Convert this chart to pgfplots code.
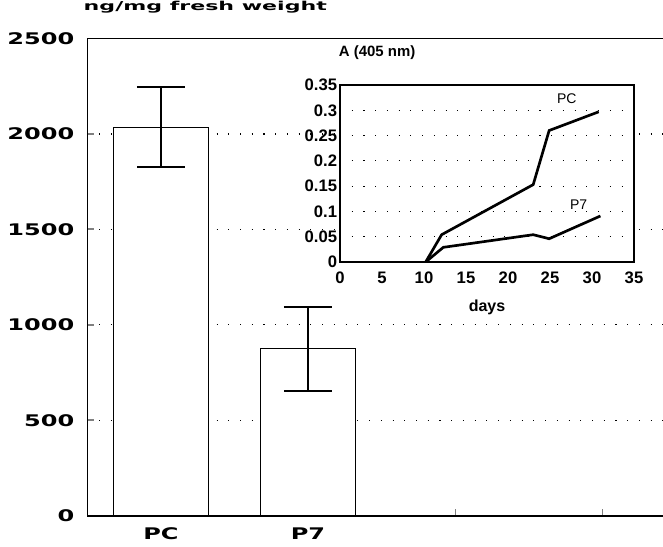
\documentclass[border=0pt]{standalone}
\usepackage{fontspec}
\usepackage{pgfplots}
\pgfplotsset{compat=1.18}
\setmainfont{Liberation Sans}
\newfontfamily\widefont[FakeStretch=1.5]{DejaVu Sans Bold}
\newfontfamily\titlefont[FakeStretch=1.8]{DejaVu Sans Bold}
\begin{document}
\begin{tikzpicture}
\path[use as bounding box] (0,0) rectangle (497.25pt,409.5pt);
\begin{axis}[
  at={(65.6pt,22.7pt)}, anchor=south west,
  scale only axis, width=431.6pt, height=357.9pt,
  xmin=-0.5, xmax=3.415, ymin=0, ymax=2500,
  axis x line=box, axis y line=left,
  axis line style={-, line width=1.4pt},
  xtick={0,1,2,3}, xticklabels={PC,P7,,},
  ytick={0,500,1000,1500,2000,2500},
  yticklabels={0,500,1000,1500,2000,2500},
  xtick pos=left, ytick pos=left,
  tick align=inside, major tick length=5pt,
  xtick style={line width=0.5pt},
  ytick style={line width=1.4pt},
  ymajorgrids,
  grid style={line width=0.8pt, dash pattern=on 0.8pt off 8pt, black},
  /pgf/number format/assume math mode=true,
  ticklabel style={font=\widefont\fontsize{12}{12}\selectfont},
  yticklabel style={anchor=east, inner sep=0pt, xshift=-9.75pt},
  xticklabel style={anchor=north, inner sep=0pt, yshift=-9pt},
  title={ng/mg fresh weight},
  title style={at={(0,1)}, anchor=base west, yshift=15pt, xshift=-3pt, inner sep=0pt,
    font=\titlefont\fontsize{9.2}{10}\selectfont},
]
\addplot[ybar, bar width=71.25pt, fill=white, draw=black, line width=0.9pt,
  error bars/.cd, y dir=both, y explicit,
  error bar style={line width=1pt},
  error mark options={rotate=90, mark size=18pt, line width=1.5pt}]
  coordinates {(0,2035) +- (0,210) (1,875) +- (0,220)};
\end{axis}
\begin{axis}[
  at={(255pt,213pt)}, anchor=south west,
  scale only axis, width=220.5pt, height=132.75pt,
  xmin=0, xmax=35, ymin=0, ymax=0.35,
  axis background/.style={fill=white},
  axis line style={line width=1pt},
  xtick={0,5,10,15,20,25,30,35},
  xticklabels={0,5,10,15,20,25,30,35},
  ytick={0,0.05,0.1,0.15,0.2,0.25,0.3,0.35},
  yticklabels={0,0.05,0.1,0.15,0.2,0.25,0.3,0.35},
  major tick length=0pt,
  ymajorgrids,
  grid style={line width=0.8pt, dash pattern=on 0.8pt off 8pt, black},
  /pgf/number format/assume math mode=true,
  ticklabel style={font=\bfseries\fontsize{12.5}{12.5}\selectfont},
  yticklabel style={anchor=east, inner sep=0pt, xshift=-2pt},
  xticklabel style={anchor=north, inner sep=0pt, yshift=-7.3pt},
  xlabel={days},
  xlabel style={at={(axis description cs:0.5,0)}, anchor=base, yshift=-37.5pt, inner sep=0pt,
    font=\bfseries\fontsize{12}{12}\selectfont},
  title={A (405 nm)},
  title style={at={(axis description cs:0,1)}, anchor=base west, yshift=15pt, xshift=-1pt, inner sep=0pt,
    font=\bfseries\fontsize{11.2}{12}\selectfont},
]
\addplot[line width=2pt, black] coordinates {(10.2,0) (12.1,0.054) (23,0.153) (24.9,0.260) (30.8,0.297)};
\addplot[line width=2pt, black] coordinates {(10.2,0) (12.3,0.029) (23,0.054) (24.9,0.046) (31,0.091)};
\node[font=\fontsize{10.5}{10.5}\selectfont] at (axis cs:27,0.322) {PC};
\node[font=\fontsize{10.5}{10.5}\selectfont] at (axis cs:28.4,0.114) {P7};
\end{axis}
\end{tikzpicture}
\end{document}
